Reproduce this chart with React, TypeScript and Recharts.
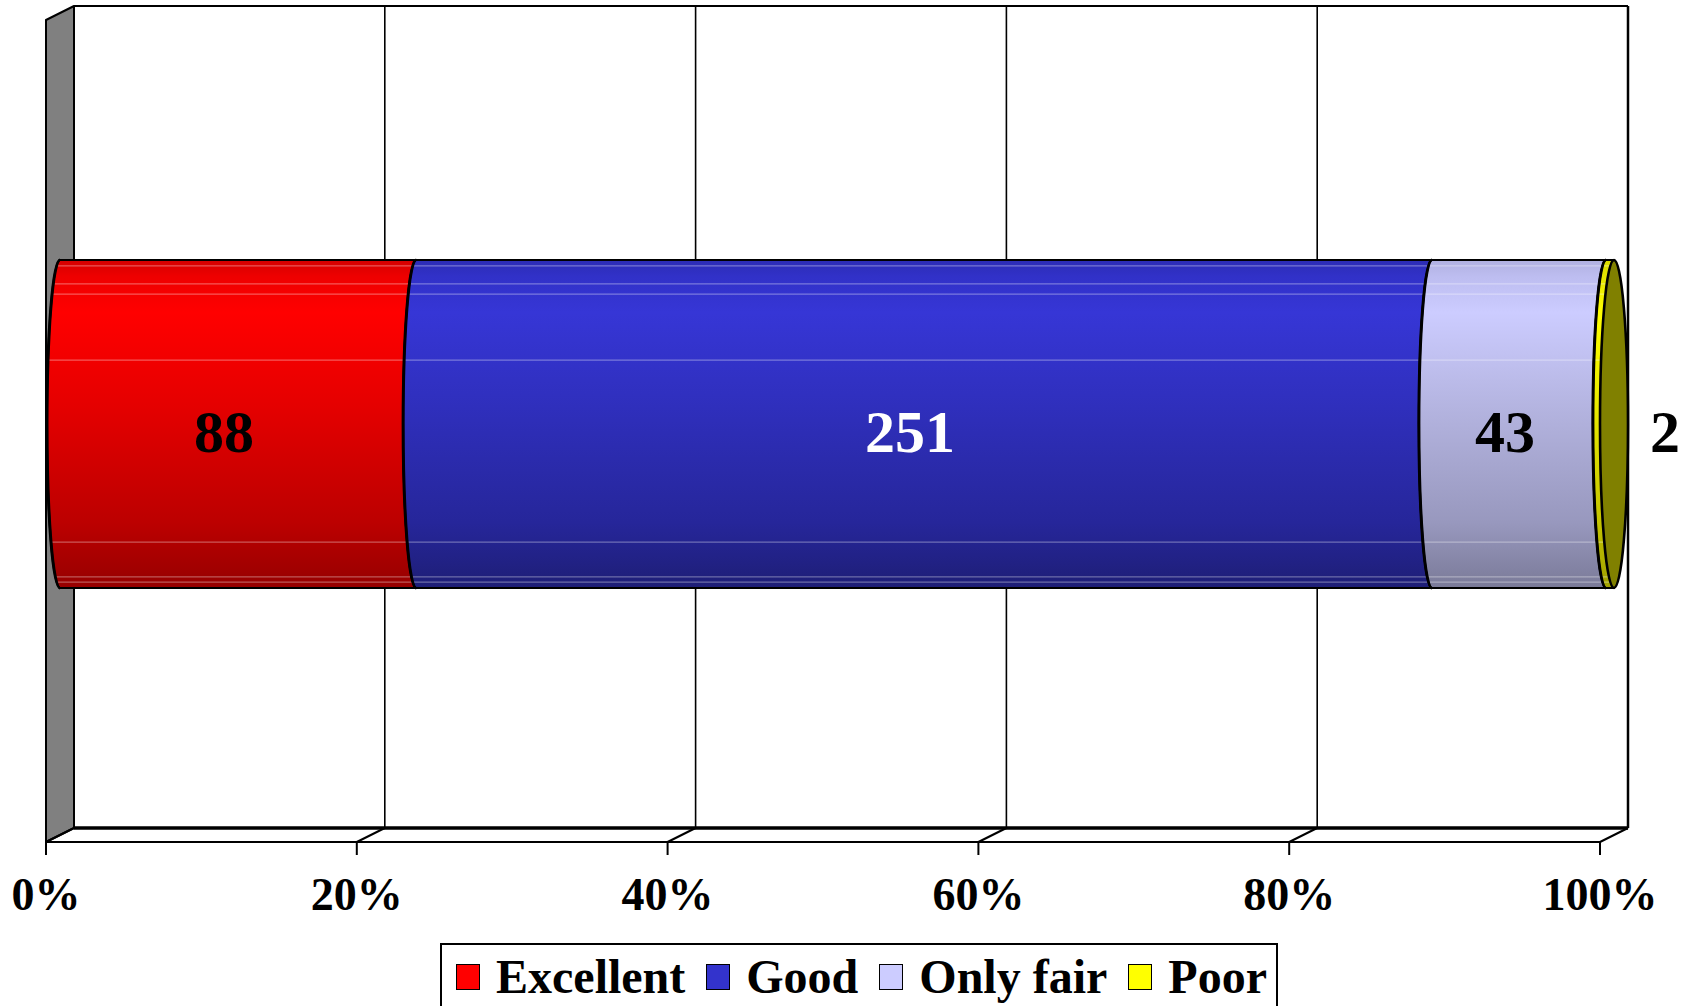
import React from 'react';
import { BarChart, Bar, XAxis, YAxis, CartesianGrid, ReferenceArea, LabelList } from 'recharts';

// ---------- data ----------
const categories = ['Responses'];
const excellent = [88];
const good = [251];
const onlyFair = [43];
const poor = [2];
const seriesNames = ['Excellent', 'Good', 'Only fair', 'Poor'];
const tickValues = [0, 0.2, 0.4, 0.6, 0.8, 1];
const tickLabels = ['0%', '20%', '40%', '60%', '80%', '100%'];

const seriesValues = [excellent, good, onlyFair, poor];
const data = categories.map((name, i) => {
  const row: any = { name };
  seriesNames.forEach((s, k) => {
    row[s] = seriesValues[k][i];
  });
  return row;
});

// ---------- style ----------
const FONT = '"Liberation Serif", "Times New Roman", Times, serif';
const DX = -28; // back plane -> front plane
const DY = 14;
const HDX = -14; // back plane -> middle (bar) plane
const HDY = 7;
const BULGE = 13;

const seriesStyles = [
  {
    id: 'gExc',
    swatch: '#ff0000',
    label: '#000000',
    cap: '#800000',
    stops: [
      [0, '#d40000'],
      [0.05, '#ee0000'],
      [0.16, '#ff0000'],
      [0.45, '#e40000'],
      [0.8, '#bc0000'],
      [1, '#960000'],
    ],
  },
  {
    id: 'gGood',
    swatch: '#3333cc',
    label: '#ffffff',
    cap: '#1a1a66',
    stops: [
      [0, '#2c2cb4'],
      [0.05, '#3131c8'],
      [0.16, '#3636d6'],
      [0.45, '#2f2fbc'],
      [0.8, '#26269a'],
      [1, '#1e1e76'],
    ],
  },
  {
    id: 'gFair',
    swatch: '#ccccff',
    label: '#000000',
    cap: '#666680',
    stops: [
      [0, '#b0b0e0'],
      [0.05, '#bdbdf0'],
      [0.16, '#ccccff'],
      [0.45, '#b4b4e0'],
      [0.8, '#9898be'],
      [1, '#7a7a98'],
    ],
  },
  {
    id: 'gPoor',
    swatch: '#ffff00',
    label: '#000000',
    cap: '#808000',
    stops: [
      [0, '#d8d800'],
      [0.16, '#ffff00'],
      [0.45, '#e8e800'],
      [0.8, '#c4c400'],
      [1, '#a0a000'],
    ],
  },
];

const highlightFracs = [0.018, 0.073, 0.104, 0.305, 0.86, 0.966, 0.982];

// ---------- custom pieces ----------
const makeShape = (k: number) => (props: any) => {
  const { x, y, width, height } = props;
  if (x == null || y == null || width == null || height == null) return null;
  const st = seriesStyles[k];
  const x0 = x + HDX;
  const x1 = x0 + width;
  const top = y + HDY;
  const bot = top + height;
  const ry = height / 2;
  const d = `M${x1},${top} L${x0},${top} A${BULGE},${ry} 0 0 0 ${x0},${bot} L${x1},${bot} A${BULGE},${ry} 0 0 1 ${x1},${top} Z`;
  const leftEdge = `M${x0},${top} A${BULGE},${ry} 0 0 0 ${x0},${bot}`;
  const isLast = k === seriesNames.length - 1;
  const clipId = `clip-seg-${k}`;
  return (
    <g>
      <defs>
        <clipPath id={clipId}>
          <path d={d} />
        </clipPath>
      </defs>
      <path d={d} fill={`url(#${st.id})`} stroke="none" />
      <g clipPath={`url(#${clipId})`}>
        {highlightFracs.map((f, i) => (
          <line
            key={i}
            x1={x0 - BULGE - 2}
            x2={x1 + 2}
            y1={top + f * height}
            y2={top + f * height}
            stroke="#ffffff"
            strokeOpacity={0.35}
            strokeWidth={1.2}
          />
        ))}
      </g>
      <path d={d} fill="none" stroke="#000" strokeWidth={2} strokeLinejoin="round" />
      <path d={leftEdge} fill="none" stroke="#000" strokeWidth={3} />
      {isLast && (
        <ellipse cx={x1} cy={top + ry} rx={BULGE + 1} ry={ry} fill={st.cap} stroke="#000" strokeWidth={2.6} />
      )}
    </g>
  );
};

const makeLabel = (k: number) => (p: any) => {
  const vb = p.viewBox || {};
  const x = p.x ?? vb.x;
  const y = p.y ?? vb.y;
  const width = p.width ?? vb.width;
  const height = p.height ?? vb.height;
  const index = p.index ?? 0;
  if (x == null || y == null) return null;
  const v = seriesValues[k][index];
  const baseline = y + height / 2 + DY + 21;
  const common = {
    fontFamily: FONT,
    fontWeight: 'bold' as const,
    fontSize: 60,
  };
  if (width < 40) {
    return (
      <text x={x + width + 22} y={baseline} textAnchor="start" fill="#000" {...common}>
        {v}
      </text>
    );
  }
  return (
    <text x={x + width / 2 + DX} y={baseline} textAnchor="middle" fill={seriesStyles[k].label} {...common}>
      {v}
    </text>
  );
};

const FrontTick = (props: any) => {
  const { x, y, payload } = props;
  const idx = tickValues.findIndex((t) => Math.abs(t - payload.value) < 1e-9);
  const fx = x + DX;
  const fy = y + DY;
  return (
    <g>
      <line x1={fx} y1={fy} x2={fx} y2={fy + 13} stroke="#000" strokeWidth={2} />
      <text x={fx} y={fy + 68} textAnchor="middle" fontFamily={FONT} fontWeight="bold" fontSize={46} fill="#000">
        {tickLabels[idx >= 0 ? idx : 0]}
      </text>
    </g>
  );
};

const Walls = (props: any) => {
  const { x, y, width, height } = props;
  if (x == null) return null;
  const r = x + width;
  const b = y + height;
  return (
    <g>
      <polygon
        points={`${x + DX},${y + DY} ${x},${y} ${x},${b} ${x + DX},${b + DY}`}
        fill="#808080"
        stroke="#000"
        strokeWidth={2}
        strokeLinejoin="round"
      />
      <line x1={x} y1={y} x2={r} y2={y} stroke="#000" strokeWidth={2} />
      <line x1={r} y1={y} x2={r} y2={b} stroke="#000" strokeWidth={2.5} />
      <line x1={x} y1={b} x2={r} y2={b} stroke="#000" strokeWidth={3.5} />
      <line x1={x + DX} y1={b + DY} x2={r + DX} y2={b + DY} stroke="#000" strokeWidth={2} />
      {tickValues.map((t, i) => {
        const tx = x + width * t;
        return <line key={i} x1={tx} y1={b} x2={tx + DX} y2={b + DY} stroke="#000" strokeWidth={2} />;
      })}
    </g>
  );
};

const LegendBox = () => (
  <div
    style={{
      position: 'absolute',
      left: 440,
      top: 943,
      width: 838,
      height: 90,
      border: '2px solid #000',
      boxSizing: 'border-box',
      display: 'flex',
      alignItems: 'flex-start',
      paddingLeft: 14,
      paddingTop: 8,
      fontFamily: FONT,
      fontWeight: 'bold',
      fontSize: 48,
      lineHeight: '48px',
      background: '#fff',
      whiteSpace: 'nowrap',
    }}
  >
    {seriesNames.map((s, k) => (
      <div key={s} style={{ display: 'flex', alignItems: 'center', marginRight: 21 }}>
        <span
          style={{
            display: 'inline-block',
            width: 24,
            height: 26,
            background: seriesStyles[k].swatch,
            border: '1.5px solid #000',
            boxSizing: 'border-box',
            marginRight: 16,
          }}
        />
        <span>{s}</span>
      </div>
    ))}
  </div>
);

export default function App() {
  return (
    <div
      style={{
        position: 'absolute',
        left: 0,
        top: 0,
        width: 1684,
        height: 1006,
        overflow: 'hidden',
        background: '#fff',
      }}
    >
      <BarChart
        width={1684}
        height={1006}
        data={data}
        layout="vertical"
        stackOffset="expand"
        margin={{ top: 6, right: 56, left: 74, bottom: 0 }}
        barSize={328}
      >
        <defs>
          {seriesStyles.map((st) => (
            <linearGradient key={st.id} id={st.id} x1="0" y1="0" x2="0" y2="1">
              {st.stops.map(([o, c], i) => (
                <stop key={i} offset={o as number} stopColor={c as string} />
              ))}
            </linearGradient>
          ))}
        </defs>
        <ReferenceArea x1={0} x2={1} fill="none" stroke="none" shape={Walls} ifOverflow="visible" />
        <CartesianGrid horizontal={false} vertical={true} stroke="#000" strokeWidth={1.6} />
        <XAxis
          type="number"
          domain={[0, 1]}
          ticks={tickValues}
          interval={0}
          height={178}
          axisLine={false}
          tickLine={false}
          tickSize={0}
          tickMargin={0}
          tick={FrontTick}
        />
        <YAxis type="category" dataKey="name" hide />
        {seriesNames.map((s, k) => (
          <Bar key={s} dataKey={s} stackId="a" isAnimationActive={false} shape={makeShape(k)}>
            <LabelList content={makeLabel(k)} />
          </Bar>
        ))}
      </BarChart>
      <LegendBox />
    </div>
  );
}
